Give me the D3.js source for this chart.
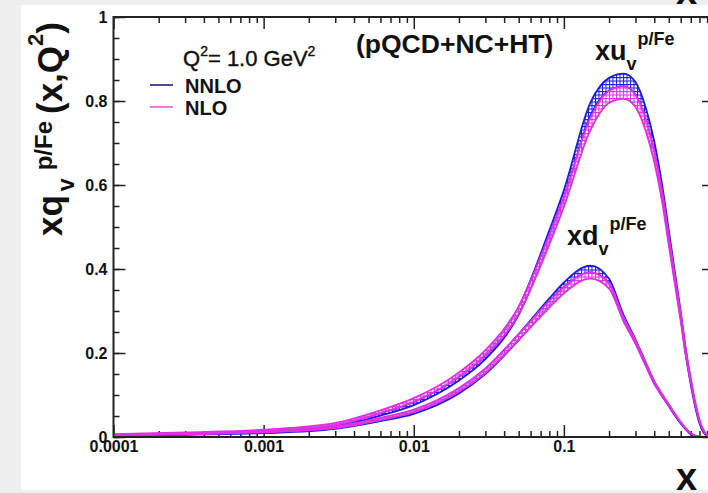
<!DOCTYPE html>
<html>
<head>
<meta charset="utf-8">
<script src="https://cdn.jsdelivr.net/npm/d3@7"></script>
<style>
  html, body { margin: 0; padding: 0; background: #eeeeee; }
  svg { display: block; font-family: "Liberation Sans", Arial, sans-serif; }
  .axis path.domain { display: none; }
  .axis line { stroke: #222; stroke-width: 1.5; }
  .axis text { font-size: 16px; font-weight: bold; fill: #111; font-family: "Liberation Sans", Arial, sans-serif; }
</style>
</head>
<body>
<div id="frame"></div>
<script>
'use strict'
var app = app || {}

// x grid and valence distributions
var xs     = [0.0001, 0.0003, 0.001, 0.003, 0.006, 0.01, 0.02, 0.03, 0.05, 0.08, 0.1, 0.15, 0.2, 0.25, 0.3, 0.35, 0.4, 0.45, 0.5, 0.55, 0.6, 0.65, 0.7, 0.75, 0.8, 0.85, 0.9, 1.0]
var uNNLO  = [0.005, 0.008, 0.013, 0.027, 0.054, 0.080, 0.140, 0.192, 0.300, 0.480, 0.575, 0.780, 0.840, 0.850, 0.830, 0.770, 0.690, 0.590, 0.480, 0.380, 0.290, 0.200, 0.130, 0.075, 0.035, 0.012, 0.003, 0]
var uNLO   = [0.006, 0.010, 0.016, 0.031, 0.060, 0.088, 0.148, 0.200, 0.302, 0.470, 0.560, 0.745, 0.810, 0.820, 0.800, 0.745, 0.668, 0.575, 0.468, 0.372, 0.285, 0.200, 0.135, 0.080, 0.040, 0.016, 0.005, 0]
var dNNLO  = [0.003, 0.006, 0.010, 0.021, 0.040, 0.058, 0.108, 0.155, 0.238, 0.322, 0.360, 0.400, 0.370, 0.285, 0.228, 0.175, 0.130, 0.100, 0.075, 0.052, 0.033, 0.018, 0.007, 0.002, 0, 0, 0, 0]
var dNLO   = [0.004, 0.007, 0.012, 0.023, 0.043, 0.062, 0.112, 0.158, 0.238, 0.316, 0.350, 0.385, 0.360, 0.280, 0.226, 0.174, 0.130, 0.100, 0.076, 0.054, 0.035, 0.020, 0.009, 0.003, 0.001, 0, 0, 0]
var relErr = [0.12, 0.10, 0.09, 0.08, 0.06, 0.05, 0.04, 0.035, 0.03, 0.025, 0.022, 0.02, 0.018, 0.018, 0.018, 0.02, 0.02, 0.022, 0.025, 0.028, 0.03, 0.035, 0.04, 0.05, 0.06, 0.08, 0.1, 0.1]

var xMajor      = [0.0001, 0.001, 0.01, 0.1, 1]
var xTickLabels = ["0.0001", "0.001", "0.01", "0.1", ""]
var yMajor      = [0, 0.2, 0.4, 0.6, 0.8, 1]
var yTickLabels = ["0", "0.2", "0.4", "0.6", "0.8", "1"]
var legendNames = ["NNLO", "NLO"]

app.settings = {
  width: 708, height: 493,
  left: 113.5, right: 714, top: 17, bottom: 437,
  blue: "#1c1ce2", pink: "#e22ee2",
  legendBlue: "#4b4b9c", legendPink: "#e47ae4"
}
var s = app.settings

app.parchment = d3.select("#frame")
  .append("svg")
  .attr("width", s.width)
  .attr("height", s.height)

app.defs = app.parchment.append("defs")

app.defs.append("clipPath")
  .attr("id", "plotclip")
  .append("rect")
  .attr("x", s.left).attr("y", s.top - 1)
  .attr("width", s.right - s.left).attr("height", s.bottom - s.top + 1)

function hatch(id, color) {
  var p = app.defs.append("pattern")
    .attr("id", id)
    .attr("patternUnits", "userSpaceOnUse")
    .attr("width", 3.5).attr("height", 3.5)
  p.append("rect").attr("width", 3.5).attr("height", 3.5).style("fill", "white").style("fill-opacity", 0.55)
  p.append("path")
    .attr("d", "M0.5,0 V3.5 M0,0.5 H3.5")
    .style("stroke", color).style("stroke-width", 1)
}
hatch("hatchBlue", s.blue)
hatch("hatchPink", s.pink)

// page background and white panel
app.parchment.append("rect")
  .attr("x", 21).attr("y", 5)
  .attr("width", s.width - 21).attr("height", 485)
  .style("fill", "white")

var xScale = d3.scaleLog().domain([1e-4, 1]).range([s.left, s.right])
var yScale = d3.scaleLinear().domain([0, 1]).range([s.bottom, s.top])

var xMinor = []
xMajor.slice(0, -1).forEach(function(m) {
  d3.range(2, 10).forEach(function(k) { xMinor.push(m * k) })
})
var yMinor = d3.range(0, 1.0001, 0.05)

var gAxes = app.parchment.append("g").attr("class", "axes")

gAxes.append("g").attr("class", "axis")
  .attr("transform", "translate(0," + s.bottom + ")")
  .call(d3.axisBottom(xScale).tickValues(xMajor).tickSizeInner(-12).tickSizeOuter(0).tickPadding(4)
    .tickFormat(function(d, i) { return xTickLabels[i] }))
gAxes.append("g").attr("class", "axis")
  .attr("transform", "translate(0," + s.bottom + ")")
  .call(d3.axisBottom(xScale).tickValues(xMinor).tickSizeInner(-6).tickSizeOuter(0).tickFormat(""))
gAxes.append("g").attr("class", "axis")
  .attr("transform", "translate(0," + s.top + ")")
  .call(d3.axisTop(xScale).tickValues(xMajor).tickSizeInner(-12).tickSizeOuter(0).tickFormat(""))
gAxes.append("g").attr("class", "axis")
  .attr("transform", "translate(0," + s.top + ")")
  .call(d3.axisTop(xScale).tickValues(xMinor).tickSizeInner(-6).tickSizeOuter(0).tickFormat(""))

gAxes.append("g").attr("class", "axis")
  .attr("transform", "translate(" + s.left + ",0)")
  .call(d3.axisLeft(yScale).tickValues(yMajor).tickSizeInner(-12).tickSizeOuter(0).tickPadding(6)
    .tickFormat(function(d, i) { return yTickLabels[i] }))
gAxes.append("g").attr("class", "axis")
  .attr("transform", "translate(" + s.left + ",0)")
  .call(d3.axisLeft(yScale).tickValues(yMinor).tickSizeInner(-6).tickSizeOuter(0).tickFormat(""))
gAxes.append("g").attr("class", "axis")
  .attr("transform", "translate(" + s.right + ",0)")
  .call(d3.axisRight(yScale).tickValues(yMajor).tickSizeInner(-12).tickSizeOuter(0).tickFormat(""))
gAxes.append("g").attr("class", "axis")
  .attr("transform", "translate(" + s.right + ",0)")
  .call(d3.axisRight(yScale).tickValues(yMinor).tickSizeInner(-6).tickSizeOuter(0).tickFormat(""))

// curves
var plot = app.parchment.append("g").attr("clip-path", "url(#plotclip)")

function rows(vals) {
  return xs.map(function(x, i) {
    return { x: x, v: vals[i], lo: vals[i] * (1 - relErr[i]), hi: vals[i] * (1 + relErr[i]) }
  })
}

var area = d3.area()
  .x(function(d) { return xScale(d.x) })
  .y0(function(d) { return yScale(d.lo) })
  .y1(function(d) { return yScale(d.hi) })
  .curve(d3.curveMonotoneX)
var lineLo = d3.line()
  .x(function(d) { return xScale(d.x) })
  .y(function(d) { return yScale(d.lo) })
  .curve(d3.curveMonotoneX)
var lineHi = d3.line()
  .x(function(d) { return xScale(d.x) })
  .y(function(d) { return yScale(d.hi) })
  .curve(d3.curveMonotoneX)

var bands = [
  { vals: uNNLO, color: s.blue, fill: "url(#hatchBlue)" },
  { vals: dNNLO, color: s.blue, fill: "url(#hatchBlue)" },
  { vals: uNLO,  color: s.pink, fill: "url(#hatchPink)" },
  { vals: dNLO,  color: s.pink, fill: "url(#hatchPink)" }
]

bands.forEach(function(b) {
  var data = rows(b.vals)
  plot.append("path").datum(data)
    .attr("d", area)
    .style("fill", b.fill)
    .style("stroke", "none")
  plot.append("path").datum(data)
    .attr("d", lineLo)
    .style("fill", "none").style("stroke", b.color).style("stroke-width", 1.8)
  plot.append("path").datum(data)
    .attr("d", lineHi)
    .style("fill", "none").style("stroke", b.color).style("stroke-width", 1.8)
})

// frame
app.parchment.append("rect")
  .attr("x", s.left).attr("y", s.top)
  .attr("width", s.right - s.left).attr("height", s.bottom - s.top)
  .style("fill", "none").style("stroke", "#222").style("stroke-width", 2)

// texts
var txt = app.parchment.append("g").style("fill", "#111")

txt.append("text")
  .attr("x", 183).attr("y", 66)
  .style("font-size", "22px")
  .style("stroke", "#111").style("stroke-width", 0.4)
  .call(function(t) {
    t.append("tspan").text("Q")
    t.append("tspan").attr("dy", -10).style("font-size", "14px").text("2")
    t.append("tspan").attr("dy", 10).text("= 1.0 GeV")
    t.append("tspan").attr("dy", -10).style("font-size", "14px").text("2")
  })

txt.append("text")
  .attr("x", 356).attr("y", 53)
  .style("font-size", "26.5px").style("font-weight", "bold")
  .text("(pQCD+NC+HT)")

var legendColors = [s.legendBlue, s.legendPink]
legendNames.forEach(function(name, i) {
  var yy = 85 + i * 22
  txt.append("line")
    .attr("x1", 150).attr("x2", 173).attr("y1", yy).attr("y2", yy)
    .style("stroke", legendColors[i]).style("stroke-width", 2)
  txt.append("text")
    .attr("x", 185).attr("y", yy + 8)
    .style("font-size", "20px").style("font-weight", "bold")
    .text(name)
})

function pdfLabel(x, y, base) {
  var t = txt.append("text")
    .attr("x", x).attr("y", y)
    .style("font-size", "27px").style("font-weight", "bold")
  t.append("tspan").text(base)
  t.append("tspan").attr("dy", 10).style("font-size", "18px").text("v")
  t.append("tspan").attr("dy", -25).attr("dx", 1).style("font-size", "18px").text("p/Fe")
}
pdfLabel(595, 60, "xu")
pdfLabel(567, 245, "xd")

// y title, rotated
txt.append("text")
  .attr("transform", "translate(62,236) rotate(-90)")
  .style("font-size", "35px").style("font-weight", "bold")
  .call(function(t) {
    t.append("tspan").text("xq")
    t.append("tspan").attr("dy", 12).attr("dx", 4).style("font-size", "23px").text("v")
    t.append("tspan").attr("dy", -22).attr("dx", 8).style("font-size", "24px").text("p/Fe")
    t.append("tspan").attr("dy", 10).attr("dx", 7).text("(x,Q")
    t.append("tspan").attr("dy", -19).style("font-size", "22px").text("2")
    t.append("tspan").attr("dy", 19).text(")")
  })

// x titles (bottom and the cut-off one above)
txt.append("text")
  .attr("x", 676).attr("y", 490)
  .style("font-size", "38px").style("font-weight", "bold")
  .text("x")
txt.append("text")
  .attr("x", 676).attr("y", 4)
  .style("font-size", "38px").style("font-weight", "bold")
  .text("x")
</script>
</body>
</html>
